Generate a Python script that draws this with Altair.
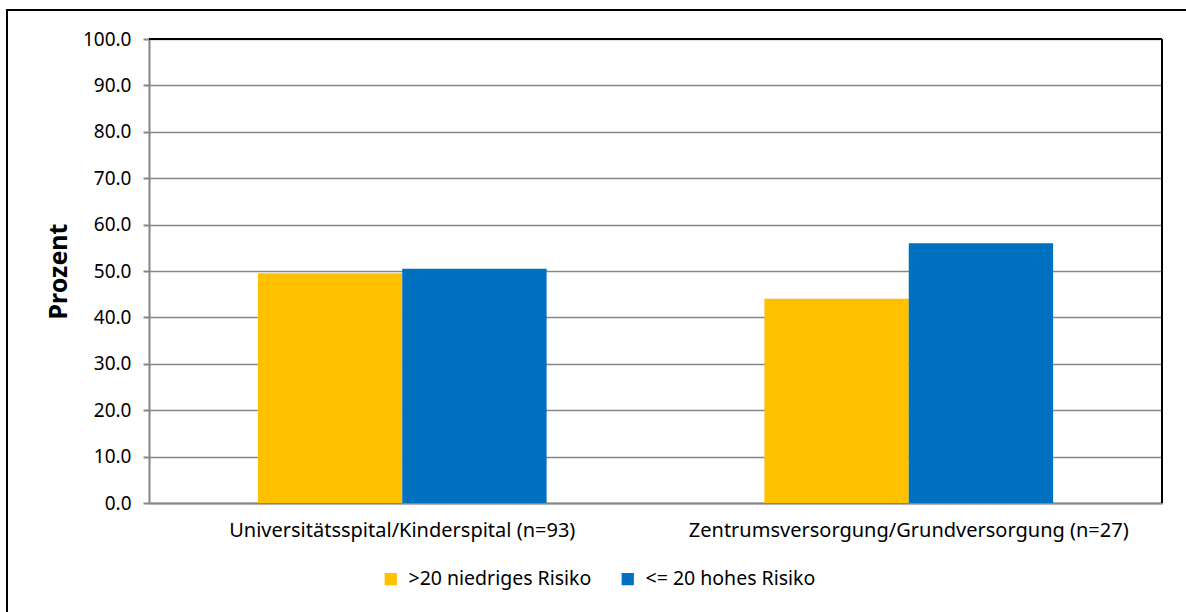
import altair as alt
import pandas as pd

# Share of patients per risk group and hospital type (percent)
categories = [
    "Universitätsspital/Kinderspital (n=93)",
    "Zentrumsversorgung/Grundversorgung (n=27)",
]
series = [">20 niedriges Risiko", "<= 20 hohes Risiko"]
low_risk = [49.5, 44.0]
high_risk = [50.5, 56.0]
y_ticks = [0, 10, 20, 30, 40, 50, 60, 70, 80, 90, 100]

rows = []
for cat, lo, hi in zip(categories, low_risk, high_risk):
    rows.append({"Kategorie": cat, "Gruppe": series[0], "Prozent": lo})
    rows.append({"Kategorie": cat, "Gruppe": series[1], "Prozent": hi})
df = pd.DataFrame(rows)

FONT = "Noto Sans"
W, H = 1013, 464

bars = alt.Chart(df).mark_bar().encode(
    x=alt.X(
        "Kategorie:N",
        sort=categories,
        scale=alt.Scale(paddingInner=0.43, paddingOuter=0.215),
        axis=alt.Axis(
            title=None, labelAngle=0, ticks=False, labelFontSize=20,
            labelColor="black", labelPadding=17, domainColor="#868686",
            domainWidth=2, labelFont=FONT, labelLimit=0,
        ),
    ),
    xOffset=alt.XOffset("Gruppe:N", sort=series, scale=alt.Scale(paddingInner=0, paddingOuter=0)),
    y=alt.Y(
        "Prozent:Q",
        scale=alt.Scale(domain=[0, 100], nice=False),
        axis=alt.Axis(
            values=y_ticks, format=".1f", labelFontSize=19, labelColor="black",
            labelFont=FONT, tickSize=6, tickColor="#868686", tickWidth=2,
            domainColor="#868686", domainWidth=2, gridColor="#888888",
            gridWidth=1.5, labelPadding=12,
            title="Prozent", titleFont=FONT, titleFontSize=25,
            titleFontWeight="bold", titleColor="black",
            titleX=-91, titleY=232, titleAlign="center",
            titleBaseline="middle", titleAngle=270,
        ),
    ),
    color=alt.Color(
        "Gruppe:N",
        sort=series,
        scale=alt.Scale(domain=series, range=["#FFC000", "#0070C0"]),
        legend=alt.Legend(
            title=None, orient="none", legendX=232, legendY=530,
            direction="horizontal", symbolType="square", symbolSize=150,
            symbolStrokeWidth=0, labelFontSize=19.5, labelFont=FONT,
            labelColor="black", columnPadding=26, labelOffset=8,
            labelLimit=0,
        ),
    ),
)

# plot-area border on top and right
top_border = alt.Chart(df).mark_rule(color="black", strokeWidth=2).encode(
    x=alt.value(0), x2=alt.value(W), y=alt.value(0)
)
right_border = alt.Chart(df).mark_rule(color="black", strokeWidth=2).encode(
    x=alt.value(W), y=alt.value(0), y2=alt.value(H)
)
# chart frame
frame = alt.Chart(df).mark_rect(
    fillOpacity=0, stroke="black", strokeWidth=2, clip=False
).encode(
    x=alt.value(-142), x2=alt.value(1186 - 149 + 10),
    y=alt.value(-29), y2=alt.value(612 - 39 + 10),
)

chart = alt.layer(bars, top_border, right_border, frame).properties(
    width=W, height=H,
    autosize=alt.AutoSizeParams(type="none"),
    padding={"left": 149, "top": 39, "right": 24, "bottom": 109},
    background="white",
).configure_view(stroke=None)

chart.save("out.html", embed_options={"renderer": "svg", "actions": False})
